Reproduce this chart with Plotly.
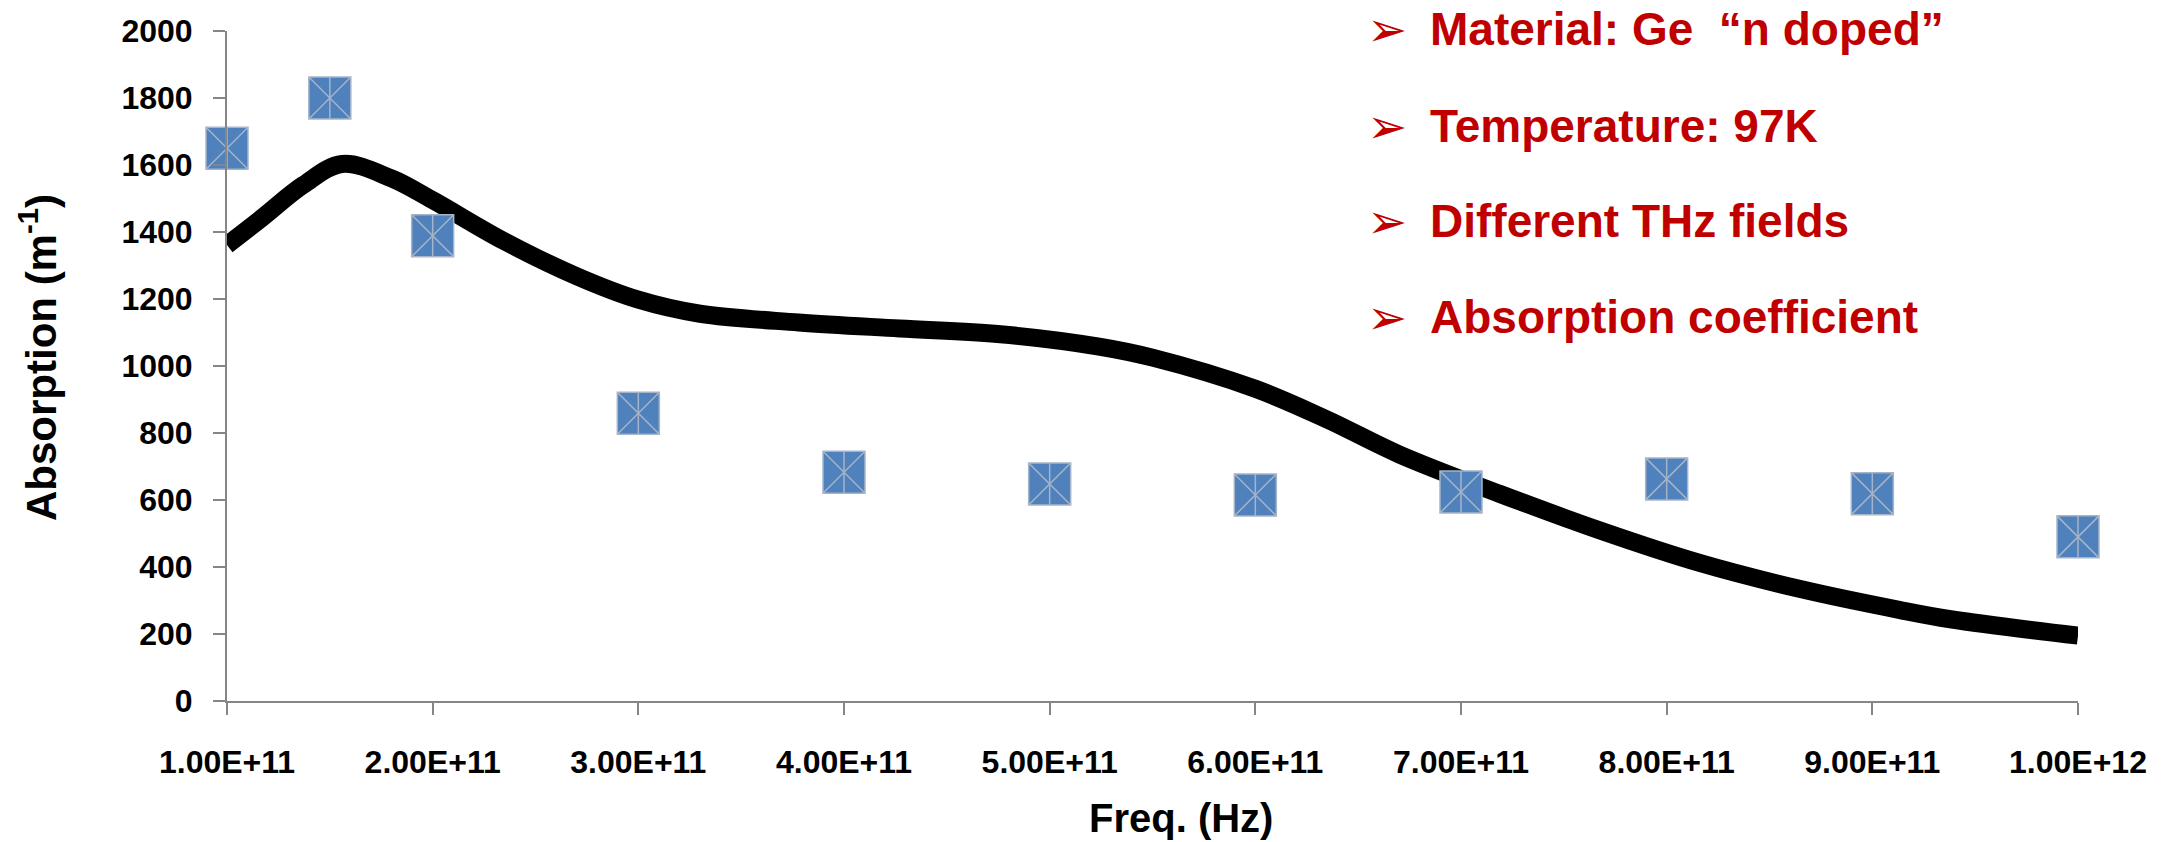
import plotly.graph_objects as go

# Measured absorption at each THz field frequency
meas_freq = [1.0e11, 1.5e11, 2.0e11, 3.0e11, 4.0e11, 5.0e11, 6.0e11, 7.0e11, 8.0e11, 9.0e11, 1.0e12]
meas_abs = [1650, 1800, 1389, 859, 683, 648, 615, 624, 663, 619, 490]

# Model curve
model_freq = [1.00e11, 1.17e11, 1.37e11, 1.56e11, 1.80e11, 2.00e11, 2.35e11, 2.70e11, 3.00e11,
              3.30e11, 3.78e11, 4.27e11, 4.76e11, 5.24e11, 5.50e11, 6.00e11, 6.35e11, 6.70e11,
              7.19e11, 7.68e11, 8.16e11, 8.65e11, 9.13e11, 9.38e11, 1.00e12]
model_abs = [1361, 1442, 1540, 1603, 1560, 1495, 1372, 1268, 1198,
             1156, 1130, 1112, 1095, 1058, 1025, 932, 840, 736,
             618, 508, 412, 334, 272, 244, 195]

x_ticks = [1e11, 2e11, 3e11, 4e11, 5e11, 6e11, 7e11, 8e11, 9e11, 1e12]
x_tick_text = ["1.00E+11", "2.00E+11", "3.00E+11", "4.00E+11", "5.00E+11",
               "6.00E+11", "7.00E+11", "8.00E+11", "9.00E+11", "1.00E+12"]
y_ticks = [0, 200, 400, 600, 800, 1000, 1200, 1400, 1600, 1800, 2000]

notes = ["Material: Ge  \u201cn doped\u201d", "Temperature: 97K",
         "Different THz fields", "Absorption coefficient"]

W, H = 2164, 842
L, R, T, B = 227, 86, 31, 141
PW, PH = W - L - R, H - T - B


def px(x):
    return (x - L) / PW


def py(y):
    return (H - B - y) / PH


FONT = "Liberation Sans, Arial, sans-serif"
RED = "#C00000"
AXIS = "#868686"
MARK_EDGE = "#A7B4C8"

fig = go.Figure()

fig.add_trace(go.Scatter(
    x=model_freq, y=model_abs, mode="lines",
    line=dict(color="black", width=18, shape="spline", smoothing=1.0),
    hoverinfo="skip", showlegend=False,
))

fig.add_trace(go.Scatter(
    x=meas_freq, y=meas_abs, mode="markers",
    marker=dict(symbol="square-x", size=42, color="#4F81BD",
                line=dict(color=MARK_EDGE, width=1.5)),
    cliponaxis=False, showlegend=False,
))
# vertical stroke through each marker
fig.add_trace(go.Scatter(
    x=meas_freq, y=meas_abs, mode="markers",
    marker=dict(symbol="line-ns", size=30, color=MARK_EDGE,
                line=dict(color=MARK_EDGE, width=1.5)),
    cliponaxis=False, showlegend=False, hoverinfo="skip",
))

annotations = []
line_y = [29, 126, 221, 317]
for text, yy in zip(notes, line_y):
    annotations.append(dict(
        xref="paper", yref="paper", x=px(1387), y=py(yy), text="\u27a2",
        showarrow=False, xanchor="center", yanchor="middle",
        font=dict(family="DejaVu Sans", size=48, color=RED),
    ))
    annotations.append(dict(
        xref="paper", yref="paper", x=px(1428), y=py(yy), text=text,
        showarrow=False, xanchor="left", yanchor="middle",
        font=dict(family=FONT, size=46, color=RED, weight=700),
    ))

annotations.append(dict(
    xref="paper", yref="paper", x=px(1181), y=py(818), text="Freq. (Hz)",
    showarrow=False, xanchor="center", yanchor="middle",
    font=dict(family=FONT, size=40, color="black", weight=700),
))
annotations.append(dict(
    xref="paper", yref="paper", x=px(38), y=py(358), text="Absorption (m<sup>-1</sup>)",
    textangle=-90, showarrow=False, xanchor="center", yanchor="middle",
    font=dict(family=FONT, size=42, color="black", weight=700),
))

fig.update_layout(
    width=W, height=H,
    margin=dict(l=L, r=R, t=T, b=B, pad=0),
    paper_bgcolor="white", plot_bgcolor="white",
    showlegend=False,
    annotations=annotations,
    xaxis=dict(
        range=[1e11, 1e12], tickvals=x_ticks, ticktext=x_tick_text,
        showgrid=False, zeroline=False,
        showline=True, linecolor=AXIS, linewidth=2,
        ticks="outside", ticklen=12, tickwidth=2, tickcolor=AXIS,
        ticklabelstandoff=20,
        tickfont=dict(family=FONT, size=32, color="black", weight=700),
    ),
    yaxis=dict(
        range=[0, 2000], tickvals=y_ticks,
        showgrid=False, zeroline=False,
        showline=True, linecolor=AXIS, linewidth=2,
        ticks="outside", ticklen=12, tickwidth=2, tickcolor=AXIS,
        ticklabelstandoff=14,
        tickfont=dict(family=FONT, size=32, color="black", weight=700),
    ),
)

fig.write_html("out.html")
